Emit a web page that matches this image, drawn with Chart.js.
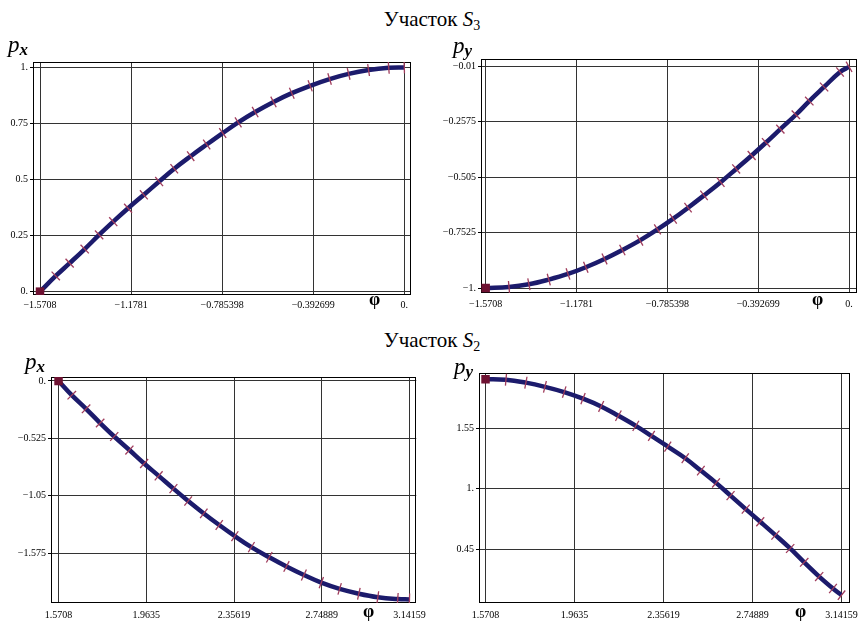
<!DOCTYPE html>
<html>
<head>
<meta charset="utf-8">
<script src="https://cdn.jsdelivr.net/npm/chart.js@4.4.1/dist/chart.umd.min.js"></script>
<style>
  body { margin: 0; background: #fff; }
  #page { position: relative; width: 864px; height: 623px; overflow: hidden;
          font-family: 'Liberation Serif', 'Times New Roman', serif; color: #000; }
  .box { position: absolute; width: 432px; }
  .title { position: absolute; left: 0; width: 864px; text-align: center; font-size: 21px; line-height: 1; }
  .title sub { font-size: 14px; vertical-align: -4px; line-height: 0; }
  .lbl { position: absolute; font-style: italic; font-size: 23px; line-height: 1; }
  .lbl span { font-size: 17px; vertical-align: -3px; font-weight: bold; }
  .phi { position: absolute; font-size: 18px; font-weight: bold; line-height: 1; }
</style>
</head>
<body>
<div id="page">
  <div class="title" style="top:9px">Участок <i>S</i><sub>3</sub></div>
  <div class="title" style="top:330px">Участок <i>S</i><sub>2</sub></div>

  <div class="box" style="left:0;top:0;height:311px"><canvas id="s3x"></canvas></div>
  <div class="box" style="left:432px;top:0;height:311px"><canvas id="s3y"></canvas></div>
  <div class="box" style="left:0;top:311px;height:312px"><canvas id="s2x"></canvas></div>
  <div class="box" style="left:432px;top:311px;height:312px"><canvas id="s2y"></canvas></div>

  <div class="lbl" style="left:8px;top:33px">p<span>x</span></div>
  <div class="lbl" style="left:453px;top:34px">p<span>y</span></div>
  <div class="lbl" style="left:25px;top:350px">p<span>x</span></div>
  <div class="lbl" style="left:454px;top:355px">p<span>y</span></div>

  <div class="phi" style="left:369px;top:290px">φ</div>
  <div class="phi" style="left:812px;top:290px">φ</div>
  <div class="phi" style="left:363px;top:602px">φ</div>
  <div class="phi" style="left:795px;top:602px">φ</div>
</div>
<script>
  // S3 section, p_x
  const phiS3x = [-1.5708, -1.503, -1.443, -1.378, -1.316, -1.255, -1.191, -1.123, -1.057, -0.992, -0.921, -0.852,
    -0.783, -0.716, -0.643, -0.564, -0.485, -0.406, -0.322, -0.240, -0.154, -0.067, 0]
  const pxS3 = [0, 0.07, 0.127, 0.19, 0.253, 0.312, 0.372, 0.432, 0.491, 0.548, 0.604, 0.656,
    0.707, 0.755, 0.801, 0.846, 0.885, 0.918, 0.948, 0.971, 0.988, 0.998, 1.0]

  // S3 section, p_y
  const phiS3y = [-1.5708, -1.470, -1.384, -1.298, -1.215, -1.138, -1.057, -0.980, -0.904, -0.828, -0.760, -0.696,
    -0.627, -0.555, -0.488, -0.421, -0.359, -0.297, -0.230, -0.172, -0.108, -0.039, 0]
  const pyS3 = [-1.0, -0.995, -0.983, -0.962, -0.937, -0.907, -0.870, -0.830, -0.787, -0.738, -0.690, -0.641,
    -0.586, -0.527, -0.468, -0.408, -0.350, -0.290, -0.226, -0.165, -0.102, -0.035, -0.012]

  // S2 section, p_x
  const phiS2x = [1.5708, 1.630, 1.694, 1.757, 1.820, 1.888, 1.954, 2.019, 2.085, 2.151, 2.221, 2.290,
    2.360, 2.434, 2.514, 2.591, 2.669, 2.747, 2.829, 2.915, 3.000, 3.089, 3.1416]
  const pxS2 = [0, -0.13, -0.255, -0.385, -0.508, -0.632, -0.755, -0.868, -0.985, -1.098, -1.212, -1.318,
    -1.420, -1.520, -1.613, -1.697, -1.775, -1.845, -1.902, -1.946, -1.978, -1.995, -1.998]

  // S2 section, p_y
  const phiS2y = [1.5708, 1.661, 1.749, 1.833, 1.918, 2.001, 2.081, 2.157, 2.234, 2.303, 2.375, 2.452,
    2.521, 2.588, 2.652, 2.719, 2.783, 2.850, 2.915, 2.977, 3.043, 3.104, 3.1416]
  const pyS2 = [2.0, 1.995, 1.968, 1.930, 1.882, 1.822, 1.751, 1.666, 1.574, 1.483, 1.385, 1.279,
    1.166, 1.054, 0.938, 0.815, 0.700, 0.578, 0.456, 0.330, 0.200, 0.091, 0.03]

  // tick values
  const phiTicksS3 = [-1.5708, -1.1781, -0.785398, -0.392699, 0]
  const phiTicksS2 = [1.5708, 1.9635, 2.35619, 2.74889, 3.14159]
  const pxTicksS3 = [0, 0.25, 0.5, 0.75, 1]
  const pyTicksS3 = [-1, -0.7525, -0.505, -0.2575, -0.01]
  const pxTicksS2 = [-1.575, -1.05, -0.525, 0]
  const pyTicksS2 = [0.45, 1, 1.55]

  const fmt = v => {
    let s = String(Math.abs(v))
    if (!s.includes('.')) s += '.'
    return (v < 0 ? '\u2212' : '') + s
  }

  const frame = {
    id: 'frame',
    beforeDatasetsDraw(chart) {
      const a = chart.chartArea, c = chart.ctx
      c.save()
      c.strokeStyle = '#000'
      c.lineWidth = 1
      c.strokeRect(Math.round(a.left) + 0.5, Math.round(a.top) + 0.5,
        Math.round(a.right - a.left) - 1, Math.round(a.bottom - a.top) - 1)
      c.restore()
    }
  }

  // marks cross the curve at a right angle
  const tickAngle = ctx => {
    const d = ctx.dataset.data, i = ctx.dataIndex, ch = ctx.chart
    const a = d[Math.max(i - 1, 0)], b = d[Math.min(i + 1, d.length - 1)]
    const dx = ch.scales.x.getPixelForValue(b.x) - ch.scales.x.getPixelForValue(a.x)
    const dy = ch.scales.y.getPixelForValue(b.y) - ch.scales.y.getPixelForValue(a.y)
    return Math.atan2(dy, dx) * 180 / Math.PI + 90
  }

  const tickFont = { family: "'Liberation Serif', 'Times New Roman', serif", size: 10 }

  function panel(id, phi, vals, xr, yr, xTicks, yTicks, box) {
    const pts = phi.map((p, i) => ({ x: p, y: vals[i] }))
    new Chart(document.getElementById(id), {
      type: 'line',
      data: {
        datasets: [
          {
            data: [pts[0]],
            showLine: false,
            pointStyle: 'rect',
            pointRadius: 6,
            pointBorderWidth: 0,
            pointBackgroundColor: '#6e1232',
            order: 0
          },
          {
            data: pts,
            borderColor: '#1c1b6c',
            borderWidth: 4.5,
            tension: 0.4,
            pointStyle: 'line',
            pointRadius: ctx => ctx.dataIndex === 0 ? 0 : 6,
            pointRotation: tickAngle,
            pointBorderColor: '#a03c5c',
            pointBorderWidth: 1.3,
            order: 1
          }
        ]
      },
      options: {
        responsive: true,
        maintainAspectRatio: false,
        animation: false,
        events: [],
        layout: { padding: { left: 0, top: box.top, right: box.right, bottom: 0 } },
        plugins: { legend: { display: false }, tooltip: { enabled: false } },
        scales: {
          x: {
            type: 'linear',
            min: xr[0],
            max: xr[1],
            afterBuildTicks: s => { s.ticks = xTicks.map(v => ({ value: v })) },
            afterFit: s => { s.height = box.xH },
            ticks: { callback: (v, i) => fmt(xTicks[i]), color: '#000', font: tickFont, padding: box.lp, maxRotation: 0, autoSkip: false },
            grid: { color: '#333', lineWidth: 1, drawTicks: false },
            border: { display: false }
          },
          y: {
            type: 'linear',
            min: yr[0],
            max: yr[1],
            afterBuildTicks: s => { s.ticks = yTicks.map(v => ({ value: v })) },
            afterFit: s => { s.width = box.yW },
            ticks: { callback: (v, i) => fmt(yTicks[i]), color: '#000', font: tickFont, padding: 2, autoSkip: false },
            grid: { color: '#333', lineWidth: 1, tickLength: 3, tickColor: '#000' },
            border: { display: false }
          }
        }
      },
      plugins: [frame]
    })
  }

  panel('s3x', phiS3x, pxS3, [-1.601, 0.029], [-0.015, 1.024], phiTicksS3, pxTicksS3,
    { yW: 33, top: 62, right: 21, xH: 16, lp: 4 })
  panel('s3y', phiS3y, pyS3, [-1.591, 0.033], [-1.022, 0.023], phiTicksS3, pyTicksS3,
    { yW: 49, top: 59, right: 6, xH: 18, lp: 5 })
  panel('s2x', phiS2x, pxS2, [1.537, 3.172], [-2.031, 0.036], phiTicksS2, pxTicksS2,
    { yW: 51, top: 66, right: 15, xH: 20, lp: 6 })
  panel('s2y', phiS2y, pyS2, [1.542, 3.177], [-0.041, 2.056], phiTicksS2, pyTicksS2,
    { yW: 47, top: 62, right: 11, xH: 20, lp: 6 })
</script>
</body>
</html>
